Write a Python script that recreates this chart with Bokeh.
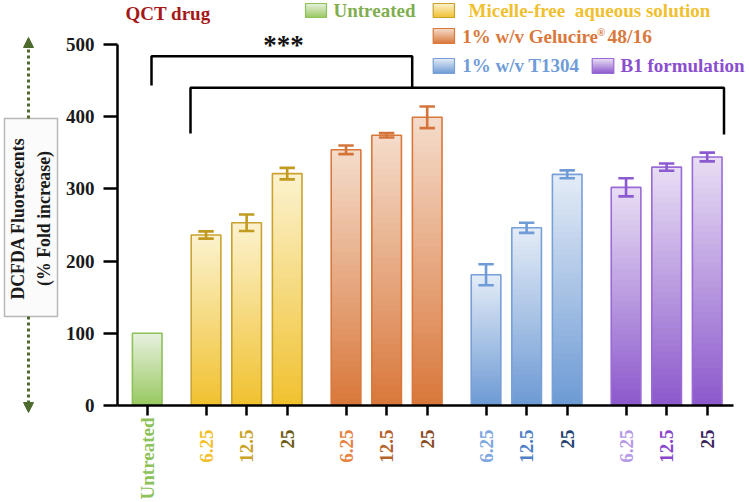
import numpy as np
from bokeh.plotting import figure
from bokeh.layouts import row, column
from bokeh.models import Range1d, FixedTicker, Arrow, NormalHead
from bokeh.embed import file_html
from bokeh.resources import INLINE
from bokeh.core.properties import value

# ---------------- data ----------------
group_names = ["Untreated", "Micelle-free\u00a0 aqueous solution", "1% w/v Gelucire® 48/16",
               "1% w/v T1304", "B1 formulation"]
tick_labels = ["Untreated", "6.25", "12.5", "25", "6.25", "12.5", "25",
               "6.25", "12.5", "25", "6.25", "12.5", "25"]
bar_group = [0, 1, 1, 1, 2, 2, 2, 3, 3, 3, 4, 4, 4]
means = [100, 236, 253, 321, 354, 374, 399, 181, 246, 320, 302, 330, 344]
errors = [0, 5, 11.5, 8, 6, 3, 15, 14.5, 7, 5.5, 12.5, 5, 6]
y_ticks = [0, 100, 200, 300, 400, 500]
y_title = "DCFDA Fluorescents\n(% Fold increase)"

# ---------------- style ----------------
FONT = value("Liberation Serif")
grad_top = ["#e8f0df", "#fcf2cf", "#f4dccb", "#e4ecf7", "#e8def4"]
grad_bot = ["#98c960", "#f0c12f", "#d9773a", "#6d9ad4", "#8c58cc"]
border = ["#8dc15a", "#c9a230", "#d9783a", "#78a0d8", "#9a6ad6"]
err_col = ["#8dc15a", "#c19a22", "#d4743a", "#6f9bd6", "#8c5ad0"]
label_col = ["#8dc15a", "#f2c12e", "#c9a227", "#6b5a12", "#e58443", "#b4622b", "#8a4a1e",
             "#7da7de", "#4f7fc4", "#25436e", "#b69ae6", "#8a45cc", "#3b1f5c"]
legend_col = ["#7fae4f", "#f0c030", "#d9783a", "#6f9cd8", "#8a4ecf"]

W, H = 749, 502
LW = 60                    # width of the left title panel
FL, FB = 117, 405          # frame left / bottom in canvas px
MAIN_H = 417               # height of main figure
SX, SY = 40.58, 0.7224     # px per x unit / px per y unit
X0 = -0.732


def X(px):
    return X0 + (px - FL) / SX


def Y(py):
    return (FB - py) / SY


# category positions: step 1 within group, extra gap between groups
xs = []
pos = 0.0
for i, g in enumerate(bar_group):
    if i > 0:
        pos += 1.0 + (0.45 if g != bar_group[i - 1] else 0.0)
    xs.append(pos)

xr = Range1d(X0, X(W))

p = figure(width=W - LW, height=MAIN_H, output_backend="svg", toolbar_location=None,
           x_range=xr, y_range=Range1d(0, Y(0)),
           min_border_left=FL - LW, min_border_right=0, min_border_top=0,
           min_border_bottom=MAIN_H - FB)
p.outline_line_color = None
p.grid.visible = False
p.background_fill_color = "white"
p.border_fill_color = "white"


def lerp(c1, c2, t):
    a = [int(c1[i:i + 2], 16) for i in (1, 3, 5)]
    b = [int(c2[i:i + 2], 16) for i in (1, 3, 5)]
    return "#%02x%02x%02x" % tuple(int(round(a[k] + (b[k] - a[k]) * t)) for k in range(3))


# ---------------- gradient bars ----------------
N = 40
BW = 0.73
gx, gb, gt, gc = [], [], [], []
for x, v, g in zip(xs, means, bar_group):
    for k in range(N):
        b = v * k / N
        t = min(v, v * (k + 1.6) / N)
        gx.append(x); gb.append(b); gt.append(t)
        gc.append(lerp(grad_bot[g], grad_top[g], (k + 0.5) / N))
p.vbar(x=gx, bottom=gb, top=gt, width=BW, fill_color=gc, line_color=None)
p.vbar(x=xs, bottom=0, top=means, width=BW, fill_color=None,
       line_color=[border[g] for g in bar_group], line_width=1.6)

# ---------------- error bars ----------------
CAP = 0.38
ex, ey0, ey1, ec = [], [], [], []
cx0, cx1, cy, cc = [], [], [], []
for x, v, e, g in zip(xs, means, errors, bar_group):
    if e <= 0:
        continue
    ex.append(x); ey0.append(v - e); ey1.append(v + e); ec.append(err_col[g])
    for yy in (v - e, v + e):
        cx0.append(x - CAP / 2); cx1.append(x + CAP / 2); cy.append(yy); cc.append(err_col[g])
p.segment(x0=ex, y0=ey0, x1=ex, y1=ey1, line_color=ec, line_width=2.6)
p.segment(x0=cx0, y0=cy, x1=cx1, y1=cy, line_color=cc, line_width=2.6)

# ---------------- axes ----------------
p.yaxis.ticker = FixedTicker(ticks=y_ticks, minor_ticks=[])
p.yaxis.bounds = (0, 500)
p.yaxis.axis_line_width = 2.5
p.yaxis.major_tick_line_width = 2.5
p.yaxis.major_tick_in = 0
p.yaxis.major_tick_out = 14
p.yaxis.minor_tick_line_color = None
p.yaxis.major_label_text_font = "Liberation Serif"
p.yaxis.major_label_text_font_style = "bold"
p.yaxis.major_label_text_font_size = "19px"
p.yaxis.major_label_text_color = "#1a1a1a"
p.yaxis.major_label_standoff = 9

p.xaxis.ticker = FixedTicker(ticks=xs, minor_ticks=[])
p.xaxis.bounds = (X0, X(733))
p.xaxis.axis_line_width = 2.5
p.xaxis.major_tick_line_width = 2.5
p.xaxis.major_tick_in = 0
p.xaxis.major_tick_out = 10
p.xaxis.minor_tick_line_color = None
p.xaxis.major_label_text_font_size = "0px"
p.xaxis.major_label_standoff = 0
p.xaxis.major_label_text_color = None

# ---------------- significance brackets ----------------
p.line(x=[X(151), X(151), X(411.7), X(411.7)], y=[Y(85), Y(55.7), Y(55.7), Y(87.3)],
       line_color="black", line_width=2.5)
p.line(x=[X(190), X(190), X(723.5), X(723.5)], y=[Y(133), Y(87.3), Y(87.3), Y(134)],
       line_color="black", line_width=2.5)
p.text(x=[X(283)], y=[Y(44)], text=["***"], text_align="center", text_baseline="middle",
       text_font=FONT, text_font_style="bold", text_font_size="27px", text_color="#111111")

# ---------------- legend ----------------
p.text(x=[X(125)], y=[Y(13)], text=["QCT drug"], text_align="left", text_baseline="middle",
       text_font=FONT, text_font_style="bold", text_font_size="19px", text_color="#a51818")

squares = [(305, 326, 3, 17), (432.7, 454, 3, 17), (432.7, 454, 28, 43),
           (432.7, 454, 58, 73), (591.7, 613.3, 58, 73)]
NS = 8
for g, (l, r, t, b) in enumerate(squares):
    qb, qt, qc = [], [], []
    for k in range(NS):
        qb.append(Y(b) + (Y(t) - Y(b)) * k / NS)
        qt.append(Y(b) + (Y(t) - Y(b)) * min(1.0, (k + 1.5) / NS))
        qc.append(lerp(grad_bot[g], grad_top[g], (k + 0.5) / NS))
    p.quad(left=X(l), right=X(r), bottom=qb, top=qt, fill_color=qc, line_color=None)
    p.quad(left=X(l), right=X(r), bottom=Y(b), top=Y(t), fill_color=None,
           line_color=border[g], line_width=1.2)

legend_pos = [(333, 10), (468, 10), (461.7, 36), (461.7, 65), (620, 65)]
for g, (lx, ly) in enumerate(legend_pos):
    name = group_names[g]
    kw = dict(text_align="left", text_baseline="middle", text_font=FONT,
              text_font_style="bold", text_color=legend_col[g])
    if "®" in name:
        pre, post = name.split("®")
        p.text(x=[X(lx)], y=[Y(ly)], text=[pre], text_font_size="19px", **kw)
        p.text(x=[X(596.5)], y=[Y(ly - 5)], text=["®"], text_font_size="11px", **kw)
        p.text(x=[X(607)], y=[Y(ly)], text=[post], text_font_size="19.5px", **kw)
    else:
        p.text(x=[X(lx)], y=[Y(ly)], text=[name], text_font_size="19px", **kw)

# ---------------- bottom panel: coloured category labels ----------------
BH = H - MAIN_H
pb = figure(width=W - LW, height=BH, output_backend="svg", toolbar_location=None,
            x_range=xr, y_range=Range1d(0, BH), x_axis_type=None, y_axis_type=None,
            min_border_left=FL - LW, min_border_right=0, min_border_top=0,
            min_border_bottom=0)
pb.outline_line_color = None
pb.grid.visible = False
for i, (x, lab) in enumerate(zip(xs, tick_labels)):
    top_px = 417 if i == 0 else 429
    pb.text(x=[x], y=[H - top_px], text=[lab], angle=np.pi / 2,
            text_align="right", text_baseline="middle", text_font=FONT,
            text_font_style="bold", text_font_size="19px", text_color=label_col[i])

# ---------------- left panel: y-axis title box with arrows ----------------
pl = figure(width=LW, height=H, output_backend="svg", toolbar_location=None,
            x_range=Range1d(0, LW), y_range=Range1d(0, H), x_axis_type=None,
            y_axis_type=None, min_border=0)
pl.outline_line_color = None
pl.grid.visible = False
pl.quad(left=4, right=57, top=H - 118, bottom=H - 316, fill_color="#fbfbfb",
        line_color="#b8b8b8", line_width=1.5)
pl.text(x=[30], y=[H - 218], text=[y_title], angle=np.pi / 2, text_align="center",
        text_baseline="middle", text_font=FONT, text_font_style="bold",
        text_font_size="17.8px", text_color="#1a1a1a", text_line_height=1.3)
arrow_col = "#4d6b2e"
for y_from, y_to in ((118, 37), (316, 412)):
    pl.add_layout(Arrow(x_start=28, y_start=H - y_from, x_end=28, y_end=H - y_to,
                        line_color=arrow_col, line_width=3, line_dash="3 3",
                        end=NormalHead(size=10, fill_color=arrow_col, line_color=arrow_col)))

layout = row(pl, column(p, pb, spacing=0), spacing=0)
open("out.html", "w").write(file_html(layout, INLINE))
